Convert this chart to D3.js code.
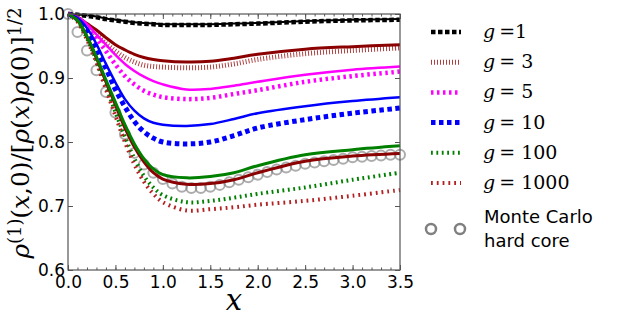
<!DOCTYPE html>
<html>
<head>
<meta charset="utf-8">
<script src="https://cdn.jsdelivr.net/npm/d3@7/dist/d3.min.js"></script>
<style>
  body { margin: 0; background: #fff; }
</style>
</head>
<body>
<div id="chart"></div>
<script>
'use strict';

// sample positions shared by all the theory curves
var xs = [0, 0.1, 0.2, 0.3, 0.4, 0.5, 0.6, 0.7, 0.8, 0.9, 1.0, 1.25, 1.5, 1.75, 2.0, 2.5, 3.0, 3.5];

// solid = exact, dashed = approximation (one pair per g)
var g1Line    = [1, 0.999, 0.998, 0.996, 0.993, 0.991, 0.989, 0.987, 0.986, 0.985, 0.984, 0.984, 0.984, 0.985, 0.986, 0.989, 0.991, 0.992];
var g1Dash    = [1, 0.999, 0.997, 0.995, 0.992, 0.990, 0.988, 0.986, 0.985, 0.984, 0.983, 0.983, 0.983, 0.984, 0.985, 0.988, 0.990, 0.991];
var g3Line    = [1, 0.995, 0.985, 0.975, 0.963, 0.952, 0.944, 0.937, 0.932, 0.929, 0.927, 0.925, 0.926, 0.931, 0.937, 0.945, 0.949, 0.952];
var g3Dash    = [1, 0.994, 0.982, 0.968, 0.954, 0.942, 0.932, 0.925, 0.920, 0.918, 0.917, 0.916, 0.917, 0.922, 0.929, 0.938, 0.943, 0.947];
var g5Line    = [1, 0.995, 0.984, 0.968, 0.952, 0.936, 0.922, 0.911, 0.902, 0.895, 0.890, 0.882, 0.883, 0.888, 0.894, 0.905, 0.913, 0.918];
var g5Dash    = [1, 0.994, 0.980, 0.962, 0.942, 0.921, 0.903, 0.890, 0.880, 0.874, 0.870, 0.867, 0.869, 0.875, 0.881, 0.894, 0.903, 0.910];
var g10Line   = [1, 0.994, 0.978, 0.953, 0.922, 0.893, 0.867, 0.849, 0.837, 0.830, 0.827, 0.825, 0.828, 0.836, 0.845, 0.856, 0.864, 0.870];
var g10Dash   = [1, 0.992, 0.972, 0.944, 0.915, 0.882, 0.855, 0.832, 0.816, 0.806, 0.800, 0.797, 0.800, 0.810, 0.822, 0.835, 0.845, 0.853];
var g100Line  = [1, 0.990, 0.965, 0.933, 0.897, 0.862, 0.827, 0.797, 0.774, 0.758, 0.749, 0.744, 0.746, 0.752, 0.763, 0.780, 0.788, 0.794];
var g100Dash  = [1, 0.989, 0.962, 0.927, 0.887, 0.847, 0.808, 0.774, 0.747, 0.729, 0.717, 0.706, 0.708, 0.713, 0.719, 0.729, 0.741, 0.752];
var g1000Line = [1, 0.990, 0.964, 0.931, 0.894, 0.858, 0.822, 0.792, 0.769, 0.752, 0.742, 0.734, 0.735, 0.741, 0.752, 0.770, 0.778, 0.782];
var g1000Dash = [1, 0.988, 0.960, 0.924, 0.882, 0.841, 0.800, 0.765, 0.738, 0.719, 0.706, 0.693, 0.695, 0.698, 0.702, 0.708, 0.716, 0.725];

// Monte Carlo hard core points
var mcX = [0, 0.1, 0.2, 0.3, 0.4, 0.5, 0.6, 0.7, 0.8, 0.9, 1.0, 1.1, 1.2, 1.3, 1.4, 1.5, 1.6, 1.7,
           1.8, 1.9, 2.0, 2.1, 2.2, 2.3, 2.4, 2.5, 2.6, 2.7, 2.8, 2.9, 3.0, 3.1, 3.2, 3.3, 3.4, 3.5];
var mcY = [1.0, 0.972, 0.943, 0.912, 0.878, 0.846, 0.812, 0.783, 0.765, 0.752, 0.742, 0.735, 0.730, 0.728, 0.728, 0.730, 0.733, 0.737,
           0.741, 0.745, 0.749, 0.753, 0.757, 0.760, 0.763, 0.766, 0.768, 0.770, 0.772, 0.774, 0.776, 0.777, 0.778, 0.779, 0.780, 0.780];

var xTicks = [0, 0.5, 1.0, 1.5, 2.0, 2.5, 3.0, 3.5];
var yTicks = [0.6, 0.7, 0.8, 0.9, 1.0];
var legendLabels = ['=1', '= 3', '= 5', '= 10', '= 100', '= 1000'];

var width = 623, height = 324;
var serif = '"DejaVu Serif", serif';
var sans = '"DejaVu Sans", sans-serif';

var svg = d3.select('#chart').append('svg')
  .attr('width', width)
  .attr('height', height);

var x = d3.scaleLinear().domain([0, 3.5]).range([68, 400]);
var y = d3.scaleLinear().domain([0.6, 1.0]).range([270, 14]);

var dashed = [
  {data: g1Dash,    color: '#000000', w: 4.5, dash: '4.5,2.5'},
  {data: g3Dash,    color: '#b04040', w: 5,   dash: '1,2'},
  {data: g5Dash,    color: '#ff00ff', w: 4.5, dash: '2.5,3.5'},
  {data: g10Dash,   color: '#0000ff', w: 5,   dash: '4.5,3.5'},
  {data: g100Dash,  color: '#008000', w: 4,   dash: '1.8,3.6'},
  {data: g1000Dash, color: '#b22222', w: 4,   dash: '1.8,4'}
];
var solid = [
  {data: g1Line,    color: '#000000', w: 2},
  {data: g3Line,    color: '#8b0000', w: 3},
  {data: g5Line,    color: '#ff00ff', w: 2.5},
  {data: g10Line,   color: '#0000ff', w: 2.5},
  {data: g1000Line, color: '#8b0000', w: 3},
  {data: g100Line,  color: '#008000', w: 3}
];

var line = d3.line()
  .x(function(d, i) { return x(xs[i]); })
  .y(function(d) { return y(d); })
  .curve(d3.curveCatmullRom.alpha(0.5));

// monte carlo circles go underneath
svg.append('g').selectAll('circle')
  .data(mcY)
  .enter().append('circle')
  .attr('cx', function(d, i) { return x(mcX[i]); })
  .attr('cy', function(d) { return y(d); })
  .attr('r', 5)
  .attr('fill', 'none')
  .attr('stroke', '#808080')
  .attr('stroke-opacity', 0.65)
  .attr('stroke-width', 2);

svg.append('g').selectAll('path')
  .data(dashed)
  .enter().append('path')
  .attr('d', function(d) { return line(d.data); })
  .attr('fill', 'none')
  .attr('stroke', function(d) { return d.color; })
  .attr('stroke-width', function(d) { return d.w; })
  .attr('stroke-dasharray', function(d) { return d.dash; });

svg.append('g').selectAll('path')
  .data(solid)
  .enter().append('path')
  .attr('d', function(d) { return line(d.data); })
  .attr('fill', 'none')
  .attr('stroke', function(d) { return d.color; })
  .attr('stroke-width', function(d) { return d.w; });

// frame + inward ticks on all sides
var frameColor = '#555';
function styleAxis(g) {
  g.select('.domain').remove();
  g.selectAll('.tick line').attr('stroke', frameColor);
  g.selectAll('text')
    .style('font-family', sans)
    .style('font-size', '17px')
    .attr('fill', '#000');
}
var minorX = d3.range(0, 36).map(function(i) { return i / 10; });

svg.append('g').attr('transform', 'translate(0,270)')
  .call(d3.axisBottom(x).tickValues(minorX).tickSizeInner(-2.5).tickSizeOuter(0).tickFormat(''))
  .call(styleAxis);
svg.append('g').attr('transform', 'translate(0,14)')
  .call(d3.axisTop(x).tickValues(minorX).tickSizeInner(-2.5).tickSizeOuter(0).tickFormat(''))
  .call(styleAxis);
svg.append('g').attr('transform', 'translate(0,270)')
  .call(d3.axisBottom(x).tickValues(xTicks).tickSizeInner(-5).tickSizeOuter(0).tickPadding(6).tickFormat(d3.format('.1f')))
  .call(styleAxis);
svg.append('g').attr('transform', 'translate(0,14)')
  .call(d3.axisTop(x).tickValues(xTicks).tickSizeInner(-5).tickSizeOuter(0).tickFormat(''))
  .call(styleAxis);
svg.append('g').attr('transform', 'translate(68,0)')
  .call(d3.axisLeft(y).tickValues(yTicks).tickSizeInner(-5).tickSizeOuter(0).tickPadding(3).tickFormat(d3.format('.1f')))
  .call(styleAxis);
svg.append('g').attr('transform', 'translate(400,0)')
  .call(d3.axisRight(y).tickValues(yTicks).tickSizeInner(-5).tickSizeOuter(0).tickFormat(''))
  .call(styleAxis);

svg.append('rect')
  .attr('x', 68).attr('y', 14)
  .attr('width', 332).attr('height', 256)
  .attr('fill', 'none')
  .attr('stroke', frameColor)
  .attr('stroke-width', 1.2);

// axis titles
svg.append('text')
  .attr('x', 234).attr('y', 310)
  .attr('text-anchor', 'middle')
  .style('font-family', serif)
  .style('font-style', 'italic')
  .style('font-size', '29px')
  .text('x');

var ylab = svg.append('text')
  .attr('transform', 'translate(29,133) rotate(-90)')
  .attr('text-anchor', 'middle')
  .style('font-family', serif)
  .style('font-size', '19px');
var yParts = [
  {t: 'ρ', it: true}, {t: '(1)', sup: true}, {t: '(', down: true}, {t: 'x', it: true}, {t: ',0)/['},
  {t: 'ρ', it: true}, {t: '('}, {t: 'x', it: true}, {t: ')'}, {t: 'ρ', it: true}, {t: '(0)]'}, {t: '1/2', sup: true}
];
yParts.forEach(function(p) {
  var ts = ylab.append('tspan').text(p.t);
  if (p.it) ts.style('font-style', 'italic');
  if (p.sup) ts.attr('dy', '-0.45em').style('font-size', '0.72em');
  if (p.down) ts.attr('dy', '0.324em');
});
// stretch the label to the span it has in the figure
var ylen = ylab.node().getComputedTextLength();
ylab.style('font-size', (19 * 251 / ylen) + 'px');

// legend
var legend = svg.append('g');
var rows = legend.selectAll('g')
  .data(dashed)
  .enter().append('g')
  .attr('transform', function(d, i) { return 'translate(0,' + (32 + i * 30.2) + ')'; });
rows.append('line')
  .attr('x1', 431).attr('x2', 461)
  .attr('stroke', function(d) { return d.color; })
  .attr('stroke-width', function(d) { return d.w; })
  .attr('stroke-dasharray', function(d) { return d.dash; });
var lt = rows.append('text')
  .attr('x', 483).attr('y', 6)
  .style('font-family', serif)
  .style('font-size', '19px');
lt.append('tspan').style('font-style', 'italic').text('g');
lt.append('tspan').attr('dx', 4).text(function(d, i) { return legendLabels[i]; });

legend.selectAll('circle')
  .data([431, 460])
  .enter().append('circle')
  .attr('cx', function(d) { return d; })
  .attr('cy', 229)
  .attr('r', 5)
  .attr('fill', 'none')
  .attr('stroke', '#808080')
  .attr('stroke-width', 2.5);
legend.append('text')
  .attr('x', 484).attr('y', 223)
  .style('font-family', sans)
  .style('font-size', '18px')
  .text('Monte Carlo');
legend.append('text')
  .attr('x', 484).attr('y', 247)
  .style('font-family', sans)
  .style('font-size', '18px')
  .text('hard core');
</script>
</body>
</html>
